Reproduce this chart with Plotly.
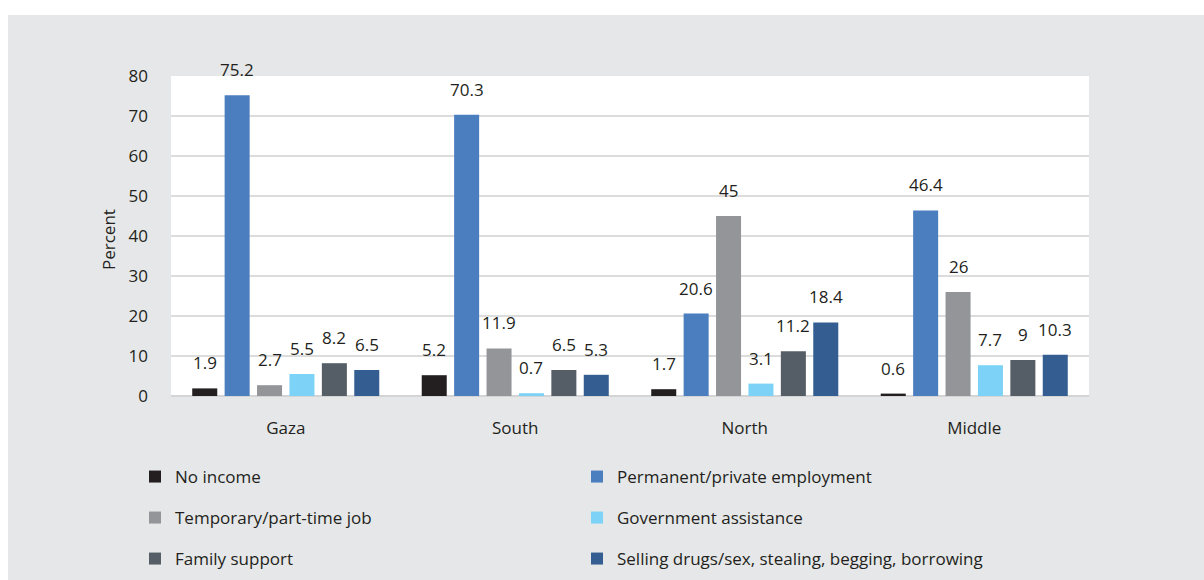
import plotly.graph_objects as go

# Main source of household income by region (percent)
regions = ["Gaza", "South", "North", "Middle"]
series_names = [
    "No income",
    "Permanent/private employment",
    "Temporary/part-time job",
    "Government assistance",
    "Family support",
    "Selling drugs/sex, stealing, begging, borrowing",
]
no_income = [1.9, 5.2, 1.7, 0.6]
permanent_private = [75.2, 70.3, 20.6, 46.4]
temporary_part_time = [2.7, 11.9, 45, 26]
government_assistance = [5.5, 0.7, 3.1, 7.7]
family_support = [8.2, 6.5, 11.2, 9]
selling_stealing = [6.5, 5.3, 18.4, 10.3]
y_ticks = [0, 10, 20, 30, 40, 50, 60, 70, 80]

series_values = [
    no_income,
    permanent_private,
    temporary_part_time,
    government_assistance,
    family_support,
    selling_stealing,
]
colors = ["#231f20", "#4a7ebf", "#939598", "#7dd3f7", "#555e66", "#345e91"]

W, H = 1204, 580
M_L, M_R, M_T, M_B = 171, 115, 76, 184
plot_w = W - M_L - M_R
plot_h = H - M_T - M_B

FONT = "Open Sans"
FS = 17
TEXT_COLOR = "#231f20"
BG = "#e6e7e8"

# Grouped bar geometry in category units
slot = 0.1412
bar_w = 0.109
n = len(series_names)


def px_x(p):
    return (p - M_L) / plot_w


def px_y(p):
    return (H - M_B - p) / plot_h


fig = go.Figure()
annotations = []
for j, (name, vals, col) in enumerate(zip(series_names, series_values, colors)):
    xs = [i + (j - (n - 1) / 2) * slot for i in range(len(regions))]
    fig.add_trace(go.Bar(
        x=xs, y=vals, width=bar_w, name=name,
        marker=dict(color=col, line=dict(width=0)),
        legend="legend" if j == 0 else f"legend{j + 1}",
        hoverinfo="skip",
    ))
    for x, v in zip(xs, vals):
        annotations.append(dict(
            x=x, y=v, xref="x", yref="y", text=f"{v:g}",
            showarrow=False, yanchor="bottom", xanchor="center", yshift=12,
            font=dict(family=FONT, size=FS, color=TEXT_COLOR),
        ))

# y-axis title
annotations.append(dict(
    x=px_x(108), y=px_y(240), xref="paper", yref="paper", text="Percent",
    textangle=-90, showarrow=False, xanchor="center", yanchor="middle",
    font=dict(family=FONT, size=FS, color=TEXT_COLOR),
))

# Two-column legend, one legend box per series
col_x = [155, 597]
row_y = [477, 518, 559]
legends = {}
for j in range(n):
    key = "legend" if j == 0 else f"legend{j + 1}"
    legends[key] = dict(
        xref="container", yref="container",
        x=(col_x[j % 2] - 20) / W, y=1 - row_y[j // 2] / H,
        xanchor="left", yanchor="middle",
        bgcolor="rgba(0,0,0,0)", borderwidth=0,
        font=dict(family=FONT, size=FS, color=TEXT_COLOR),
    )

shapes = [
    # white strips framing the grey panel
    dict(type="rect", xref="paper", yref="paper",
         x0=px_x(-20), x1=px_x(W + 20), y0=px_y(15), y1=px_y(-20),
         fillcolor="white", line=dict(width=0), layer="below"),
    dict(type="rect", xref="paper", yref="paper",
         x0=px_x(-20), x1=px_x(8), y0=px_y(H + 20), y1=px_y(-20),
         fillcolor="white", line=dict(width=0), layer="below"),
]

fig.update_layout(
    width=W, height=H,
    margin=dict(l=M_L, r=M_R, t=M_T, b=M_B, autoexpand=False),
    paper_bgcolor=BG, plot_bgcolor="white",
    barmode="overlay",
    font=dict(family=FONT, size=FS, color=TEXT_COLOR),
    showlegend=True,
    annotations=annotations,
    shapes=shapes,
    xaxis=dict(
        range=[-0.5, len(regions) - 0.5],
        tickmode="array", tickvals=list(range(len(regions))), ticktext=regions,
        showgrid=False, zeroline=False, showline=False, ticks="",
        ticklabelstandoff=20,
        tickfont=dict(family=FONT, size=FS, color=TEXT_COLOR),
        fixedrange=True,
    ),
    yaxis=dict(
        range=[0, 80], tickmode="array", tickvals=y_ticks,
        showgrid=True, gridcolor="#dcdcdc", gridwidth=1.5,
        zeroline=True, zerolinecolor="#d4d4d4", zerolinewidth=2,
        showline=False, ticks="", ticklabelstandoff=22,
        tickfont=dict(family=FONT, size=FS, color=TEXT_COLOR),
        fixedrange=True,
    ),
    **legends,
)

fig.write_html("out.html", config={"displayModeBar": False})
